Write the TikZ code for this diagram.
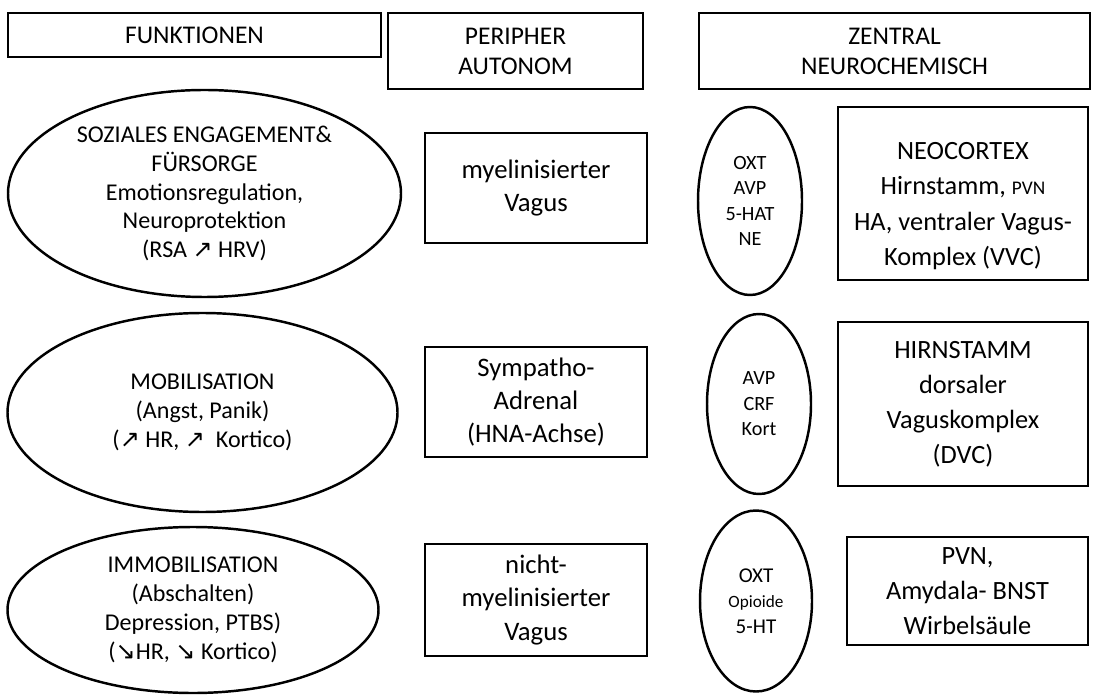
\documentclass[tikz,border=0pt]{standalone}
\usepackage{fontspec}
\setmainfont{Carlito}
\newfontfamily\arrowfont{DejaVu Sans}
\usetikzlibrary{shapes.geometric}
\newcommand{\pxl}[1]{#1*0.02cm}
\newcommand{\arrup}{{\arrowfont\char"2197}}
\newcommand{\arrdown}{{\arrowfont\char"2198}}

\begin{document}
\begin{tikzpicture}[
  x=0.02cm, y=-0.02cm,
  every node/.style={inner sep=0pt, align=center},
  head/.style={draw, line width=1.4pt, font=\fontsize{14.5}{17}\selectfont},
  func/.style={draw, ellipse, line width=1.4pt, font=\fontsize{13.7}{16.4}\selectfont},
  periph/.style={draw, line width=1.4pt, minimum width=\pxl{222},
                 font=\fontsize{15.2}{18.8}\selectfont},
  chem/.style={draw, ellipse, line width=1.4pt, font=\fontsize{11.5}{14.5}\selectfont},
  zentr/.style={draw, line width=1.4pt, font=\fontsize{15}{20}\selectfont}
]
\useasboundingbox (0,0) rectangle (1094,695);

% header row
\node[head, minimum width=\pxl{373}, minimum height=\pxl{44}] (fkt) at (194.5,35) {FUNKTIONEN};
\node[head, minimum width=\pxl{255}, minimum height=\pxl{76}] (per) at (515.5,51) {PERIPHER\\AUTONOM};
\node[head, minimum width=\pxl{391}, minimum height=\pxl{76}] (zen) at (894.5,51) {ZENTRAL\\NEUROCHEMISCH};

% row 1: soziales Engagement
\node[func, minimum width=\pxl{393}, minimum height=\pxl{207}] (soc) at (204.5,193.5)
  {SOZIALES ENGAGEMENT\&\\FÜRSORGE\\Emotionsregulation,\\Neuroprotektion\\(RSA \arrup{} HRV)};
\node[periph, minimum height=\pxl{110}] (myel) at (536,188) {myelinisierter\\Vagus};
\node[chem, minimum width=\pxl{104}, minimum height=\pxl{188}] (oxa) at (750,201) {OXT\\AVP\\5-HAT\\NE};
\node[zentr, minimum width=\pxl{250}, minimum height=\pxl{173}] (neo) at (963,193.5)
  {\rule{0pt}{24pt}NEOCORTEX\\Hirnstamm, {\fontsize{11}{11}\selectfont PVN}\\HA, ventraler Vagus-\\Komplex (VVC)};

% row 2: Mobilisation
\node[func, minimum width=\pxl{390}, minimum height=\pxl{199}] (mob) at (202.5,412.5)
  {MOBILISATION\\(Angst, Panik)\\(\arrup{} HR, \arrup{}\ \ Kortico)};
\node[periph, minimum height=\pxl{110}] (symp) at (536,402) {Sympatho-\\Adrenal\\(HNA-Achse)};
\node[chem, minimum width=\pxl{104}, minimum height=\pxl{180}] (avp) at (759,404) {AVP\\CRF\\Kort};
\node[zentr, minimum width=\pxl{250}, minimum height=\pxl{164}] (dvc) at (963,404)
  {HIRNSTAMM\\dorsaler\\Vaguskomplex\\(DVC)};

% row 3: Immobilisation
\node[func, minimum width=\pxl{371}, minimum height=\pxl{166}] (immo) at (193,610)
  {IMMOBILISATION\\(Abschalten)\\Depression, PTBS)\\(\arrdown{}HR, \arrdown{} Kortico)};
\node[periph, minimum height=\pxl{112}] (nmv) at (536,600) {nicht-\\myelinisierter\\Vagus};
\node[chem, minimum width=\pxl{112}, minimum height=\pxl{181}] (opi) at (756,601)
  {{\fontsize{12}{14}\selectfont OXT}\\{\fontsize{9.8}{13}\selectfont Opioide}\\{\fontsize{12}{14}\selectfont 5-HT}};
\node[zentr, minimum width=\pxl{241}, minimum height=\pxl{108}] (pvn) at (967.5,591)
  {PVN,\\Amydala- BNST\\Wirbelsäule};
\end{tikzpicture}
\end{document}
